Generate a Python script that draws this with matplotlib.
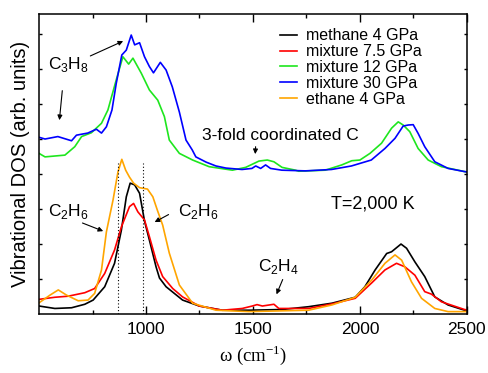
import matplotlib.pyplot as plt

plt.rcParams['font.family'] = ['Liberation Sans', 'DejaVu Sans']

# mixture 30 GPa (upper group)
x_blue = [500, 528, 588, 652, 675, 728, 768, 792, 815, 841, 861, 887, 908, 931, 947, 970,
          993, 1016, 1035, 1067, 1094, 1123, 1156, 1187, 1216, 1233, 1281, 1327, 1374, 1449,
          1495, 1513, 1536, 1559, 1582, 1635, 1745, 1867, 1960, 2053, 2117, 2164, 2202, 2226,
          2249, 2272, 2303, 2350, 2412, 2489, 2500]
y_blue = [5.05, 5.00, 5.07, 4.95, 5.11, 5.17, 5.28, 5.17, 5.35, 5.83, 6.59, 7.40, 7.54, 7.97,
          7.69, 7.75, 7.35, 7.07, 6.89, 7.19, 6.97, 6.49, 5.77, 4.97, 4.69, 4.49, 4.34, 4.23,
          4.17, 4.13, 4.16, 4.23, 4.16, 4.26, 4.16, 4.11, 4.09, 4.13, 4.23, 4.40, 4.73, 5.02,
          5.37, 5.40, 5.41, 5.16, 4.78, 4.35, 4.16, 4.07, 4.06]

# mixture 12 GPa (upper group)
x_green = [500, 528, 621, 667, 699, 745, 792, 822, 861, 892, 919, 939, 978, 1016, 1055, 1086,
           1109, 1156, 1218, 1295, 1404, 1466, 1528, 1567, 1598, 1636, 1699, 1714, 1838, 1915,
           1962, 2000, 2047, 2101, 2148, 2179, 2202, 2233, 2272, 2319, 2381, 2489, 2500]
y_green = [4.59, 4.49, 4.54, 4.78, 5.07, 5.18, 5.45, 5.83, 6.69, 7.35, 7.14, 7.31, 6.88, 6.40,
           6.11, 5.64, 4.97, 4.59, 4.40, 4.21, 4.11, 4.19, 4.37, 4.40, 4.35, 4.19, 4.11, 4.08,
           4.11, 4.26, 4.38, 4.40, 4.59, 4.88, 5.31, 5.49, 5.40, 5.21, 4.73, 4.40, 4.21, 4.07, 4.06]

# methane 4 GPa
x_black = [500, 574, 652, 714, 753, 807, 853, 885, 908, 926, 947, 970, 993, 1016, 1047, 1063,
           1094, 1171, 1249, 1357, 1481, 1636, 1760, 1869, 1978, 2023, 2071, 2125, 2148, 2192,
           2218, 2257, 2303, 2350, 2412, 2489, 2500]
y_black = [0.23, 0.16, 0.18, 0.28, 0.40, 0.78, 1.45, 2.40, 3.35, 3.74, 3.69, 3.45, 2.66, 2.11,
           1.35, 1.03, 0.78, 0.40, 0.23, 0.11, 0.11, 0.13, 0.21, 0.31, 0.48, 0.78, 1.26, 1.73,
           1.78, 2.00, 1.88, 1.49, 1.07, 0.49, 0.26, 0.11, 0.10]

# mixture 7.5 GPa
x_red = [500, 574, 636, 714, 760, 807, 853, 885, 923, 942, 962, 993, 1016, 1047, 1078, 1125,
         1171, 1249, 1357, 1450, 1497, 1519, 1544, 1598, 1621, 1760, 1869, 1978, 2055, 2117,
         2171, 2210, 2257, 2303, 2334, 2381, 2489, 2500]
y_red = [0.42, 0.48, 0.51, 0.61, 0.73, 1.16, 1.83, 2.49, 3.07, 3.16, 2.92, 2.69, 2.21, 1.54,
         1.07, 0.73, 0.49, 0.23, 0.11, 0.16, 0.23, 0.27, 0.23, 0.28, 0.16, 0.16, 0.29, 0.45,
         0.89, 1.26, 1.45, 1.35, 1.11, 0.64, 0.57, 0.35, 0.13, 0.12]

# ethane 4 GPa
x_orange = [500, 551, 590, 629, 683, 729, 760, 792, 815, 846, 869, 887, 905, 923, 942, 970,
            1007, 1032, 1053, 1078, 1109, 1156, 1218, 1327, 1481, 1760, 1869, 1978, 2055, 2117,
            2164, 2195, 2241, 2288, 2350, 2412, 2489, 2500]
y_orange = [0.32, 0.54, 0.69, 0.54, 0.38, 0.40, 0.59, 1.26, 2.35, 3.26, 4.06, 4.42, 4.11, 3.91,
            3.74, 3.61, 3.57, 3.35, 2.97, 2.54, 1.74, 0.83, 0.31, 0.11, 0.07, 0.11, 0.26, 0.48,
            0.97, 1.45, 1.69, 1.54, 0.92, 0.45, 0.16, 0.07, 0.07, 0.07]

dotted_x = [869, 988]

fig = plt.figure(figsize=(4.89, 3.73), dpi=100)
ax = fig.add_axes([0.0798, 0.158, 0.875, 0.8045])

lw = 1.2
ax.plot(x_black, y_black, color='black', lw=lw, label='methane 4 GPa')
ax.plot(x_red, y_red, color='#ff0000', lw=lw, label='mixture 7.5 GPa')
ax.plot(x_green, y_green, color='#1ee61e', lw=lw, label='mixture 12 GPa')
ax.plot(x_blue, y_blue, color='#0000ff', lw=lw, label='mixture 30 GPa')
ax.plot(x_orange, y_orange, color='#ffa500', lw=lw, label='ethane 4 GPa')

for xd in dotted_x:
    ax.plot([xd, xd], [0, 4.31], color='black', lw=0.8, ls=(0, (1, 2)))

ax.set_xlim(500, 2500)
ax.set_ylim(0, 300 / 35)
ax.set_xticks([1000, 1500, 2000, 2500])
ax.set_xticks([750, 1250, 1750, 2250], minor=True)
ax.set_yticks(range(1, 9))
ax.set_yticklabels([])
ax.tick_params(axis='x', which='major', direction='in', length=5.5, width=1, top=True,
               labelsize=12.5, pad=6)
ax.tick_params(axis='x', which='minor', direction='in', length=3, width=1, top=True)
ax.tick_params(axis='y', direction='in', length=2.5, width=1, right=True)
for s in ax.spines.values():
    s.set_linewidth(1.1)

ax.set_xlabel(r'ω (cm$^{\mathregular{-1}}$)', family=['Liberation Serif', 'DejaVu Serif'],
              fontsize=13.5, labelpad=4)
ax.set_ylabel('Vibrational DOS (arb. units)', fontsize=14.5, labelpad=3)

ax.legend(loc='upper left', bbox_to_anchor=(0.563, 0.952), frameon=False, fontsize=11.5,
          handlelength=1.06, handletextpad=0.56, labelspacing=0.05, borderpad=0,
          borderaxespad=0)

fs = 12.5
arrow = dict(arrowstyle='-|>', lw=0.8, color='black', mutation_scale=7)

ax.text(640, 7.14, r'C$_\mathregular{3}$H$_\mathregular{8}$', fontsize=fs, ha='center', va='center')
ax.annotate('', xy=(905, 7.83), xytext=(728, 7.34), arrowprops=arrow)
ax.annotate('', xy=(594, 5.46), xytext=(610, 6.46), arrowprops=arrow)

ax.text(1263, 5.09, '3-fold coordinated C', fontsize=fs, ha='left', va='center')
ax.annotate('', xy=(1510, 4.49), xytext=(1513, 4.86), arrowprops=arrow)

ax.text(1863, 3.14, 'T=2,000 K', fontsize=13, ha='left', va='center')

ax.text(637, 2.94, r'C$_\mathregular{2}$H$_\mathregular{6}$', fontsize=fs, ha='center', va='center')
ax.annotate('', xy=(812, 2.34), xytext=(691, 2.63), arrowprops=arrow)

ax.text(1244, 2.94, r'C$_\mathregular{2}$H$_\mathregular{6}$', fontsize=fs, ha='center', va='center')
ax.annotate('', xy=(1029, 2.59), xytext=(1117, 2.88), arrowprops=arrow)

ax.text(1621, 1.37, r'C$_\mathregular{2}$H$_\mathregular{4}$', fontsize=fs, ha='center', va='center')
ax.annotate('', xy=(1605, 0.49), xytext=(1644, 1.06), arrowprops=arrow)

fig.savefig('out.png', dpi=100)
